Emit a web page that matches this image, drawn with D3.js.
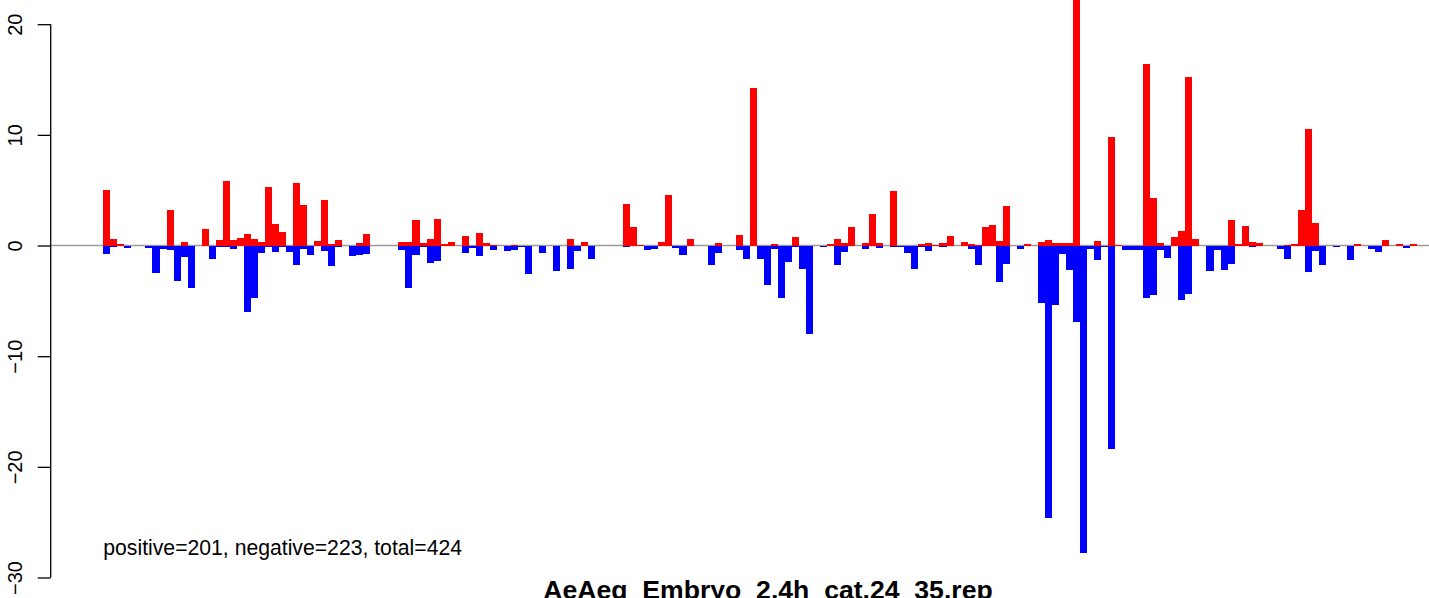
<!DOCTYPE html>
<html>
<head>
<meta charset="utf-8">
<script src="https://cdn.jsdelivr.net/npm/d3@7"></script>
<style>
  html, body { margin: 0; padding: 0; background: #fff; overflow: hidden; }
  svg { display: block; }
</style>
</head>
<body>
<div id="wrapper"></div>
<script>
// per-bin sums (bins left to right)
const upValues = [
  5.03, 0.6, 0.15, 0, 0, 0, 0, 0, 0, 3.22,
  0, 0.33, 0, 0, 1.5, 0, 0.5, 5.84, 0.5, 0.7,
  1.05, 0.6, 0.33, 5.3, 1.96, 1.23, 0, 5.66, 3.67, 0,
  0.42, 4.13, 0.15, 0.5, 0, 0, 0.24, 1.05, 0, 0,
  0, 0, 0.33, 0.33, 2.32, 0.24, 0.6, 2.4, 0.15, 0.33,
  0, 0.87, 0, 1.14, 0.24, 0.06, 0, 0, 0.06, 0,
  0, 0, 0, 0, 0, 0, 0.6, 0, 0.33, 0,
  0, 0, 0, 0, 3.76, 1.69, 0.06, 0, 0, 0.33,
  4.58, 0, 0, 0.6, 0, 0, 0, 0.24, 0, 0,
  0.96, 0, 14.25, 0, 0, 0.15, 0, 0, 0.78, 0,
  0, 0, 0, 0.15, 0.6, 0.24, 1.69, 0, 0.24, 2.86,
  0.24, 0, 4.94, 0, 0, 0, 0.15, 0.24, 0.06, 0.24,
  0.87, 0, 0.33, 0.15, 0.06, 1.69, 1.87, 0.42, 3.58, 0,
  0, 0.15, 0, 0.33, 0.5, 0.24, 0.24, 0.24, 23.5, 0,
  0, 0.42, 0, 9.83, 0.06, 0, 0, 0, 16.41, 4.3,
  0.24, 0, 0.78, 1.33, 15.24, 0.6, 0, 0, 0, 0,
  2.32, 0.15, 1.78, 0.33, 0.24, 0, 0, 0, 0.06, 0.15,
  3.2, 10.54, 2.05, 0, 0, 0, 0, 0, 0.15, 0,
  0, 0, 0.5, 0, 0.15, 0, 0.15
];
const downValues = [
  -0.75, -0.1, 0, -0.2, 0, 0, -0.2, -2.47, -0.27, -0.4,
  -3.2, -1.0, -3.8, 0, 0, -1.2, -0.1, -0.1, -0.3, 0,
  -6.0, -4.7, -0.66, -0.1, -0.57, -0.15, -0.57, -1.75, -0.3, -0.84,
  0, -0.48, -1.84, -0.12, 0, -0.93, -0.84, -0.75, 0, 0,
  0, 0, -0.4, -3.8, -0.84, -0.15, -1.57, -1.39, 0, 0,
  0, -0.66, -0.25, -0.93, 0, -0.4, 0, -0.48, -0.4, -0.12,
  -2.56, 0, -0.66, 0, -2.29, 0, -2.1, -0.48, 0, -1.2,
  -0.05, 0, 0, 0, -0.12, 0, 0, -0.4, -0.3, 0,
  0, -0.2, -0.84, 0, -0.05, -0.05, -1.75, -0.66, -0.05, 0,
  -0.4, -1.2, 0, -1.2, -3.56, -0.3, -4.73, -1.48, -0.12, -2.1,
  -7.98, 0, -0.12, 0, -1.75, -0.57, 0, 0, -0.3, 0,
  -0.2, 0, -0.12, -0.12, -0.66, -2.1, -0.12, -0.48, 0, -0.12,
  0, 0, 0, -0.3, -1.75, 0, -0.05, -3.28, -1.66, 0,
  -0.3, 0, 0, -5.18, -24.66, -5.36, -0.75, -2.2, -6.9, -27.83,
  -0.3, -1.3, -0.12, -18.36, 0, -0.4, -0.4, -0.4, -4.73, -4.46,
  -0.4, -1.12, 0, -4.9, -4.37, 0, 0, -2.29, -0.4, -2.2,
  -1.66, 0, 0, -0.12, 0, 0, 0, -0.3, -1.2, 0,
  0, -2.38, -0.48, -1.75, 0, -0.12, 0, -1.3, 0, 0,
  -0.3, -0.57, 0, 0, 0, -0.2, 0
];
const yTicks = [-30, -20, -10, 0, 10, 20];
const countLabel = "positive=201, negative=223, total=424";
const chartTitle = "AeAeg_Embryo_2.4h_cat.24_35.rep";

function draw() {
  const dimensions = {
    width: 1429,
    height: 598,
    axisX: 50.7,
    barsLeft: 103.3,
    barsRight: 1417.3,
    yTop: 24.2,
    yBottom: 577.5
  };

  const svg = d3.select("#wrapper")
    .append("svg")
      .attr("width", dimensions.width)
      .attr("height", dimensions.height)
      .style("font-family", "'Liberation Sans', Arial, sans-serif");

  const bins = d3.range(upValues.length);

  const x = d3.scaleBand()
    .domain(bins)
    .range([dimensions.barsLeft, dimensions.barsRight])
    .padding(0);

  const y = d3.scaleLinear()
    .domain([-30, 20])
    .range([dimensions.yBottom, dimensions.yTop]);

  // zero line, under the bars
  svg.append("line")
    .attr("x1", dimensions.axisX)
    .attr("x2", dimensions.width)
    .attr("y1", y(0))
    .attr("y2", y(0))
    .attr("stroke", "#9a9a9a")
    .attr("stroke-width", 1.4);

  svg.append("g")
    .attr("shape-rendering", "crispEdges")
    .selectAll("rect.up")
    .data(bins)
    .join("rect")
      .attr("class", "up")
      .attr("x", d => x(d))
      .attr("width", x.bandwidth())
      .attr("y", d => y(upValues[d]))
      .attr("height", d => y(0) - y(upValues[d]))
      .attr("fill", "#ff0000");

  svg.append("g")
    .attr("shape-rendering", "crispEdges")
    .selectAll("rect.down")
    .data(bins)
    .join("rect")
      .attr("class", "down")
      .attr("x", d => x(d))
      .attr("width", x.bandwidth())
      .attr("y", y(0))
      .attr("height", d => y(downValues[d]) - y(0))
      .attr("fill", "#0000ff");

  // y axis, R style: rotated labels
  const yAxis = d3.axisLeft(y)
    .tickValues(yTicks)
    .tickSize(13)
    .tickSizeOuter(0)
    .tickFormat(d => d < 0 ? "\u2212" + Math.abs(d) : d);

  const axisG = svg.append("g")
    .attr("transform", "translate(" + dimensions.axisX + ",0)")
    .call(yAxis);
  axisG.select(".domain")
    .attr("d", "M0," + y(-30) + "V" + y(20))
    .attr("stroke", "#000")
    .attr("stroke-width", 1.3);
  axisG.selectAll(".tick line")
    .attr("stroke", "#000")
    .attr("stroke-width", 1.3);
  axisG.selectAll(".tick text")
    .attr("x", null)
    .attr("dy", null)
    .attr("transform", "translate(-29,0) rotate(-90)")
    .attr("text-anchor", "middle")
    .attr("fill", "#000")
    .style("font-size", "20px")
    .style("font-family", "'Liberation Sans', Arial, sans-serif");

  svg.append("text")
    .attr("x", dimensions.barsLeft)
    .attr("y", 555)
    .attr("font-size", 21.2)
    .attr("fill", "#000")
    .text(countLabel);

  // title sits at the bottom edge, partly cut like the original
  svg.append("text")
    .attr("x", 768)
    .attr("y", 599)
    .attr("text-anchor", "middle")
    .attr("font-size", 26.6)
    .attr("font-weight", "bold")
    .attr("fill", "#000")
    .text(chartTitle);
}
draw();
</script>
</body>
</html>
